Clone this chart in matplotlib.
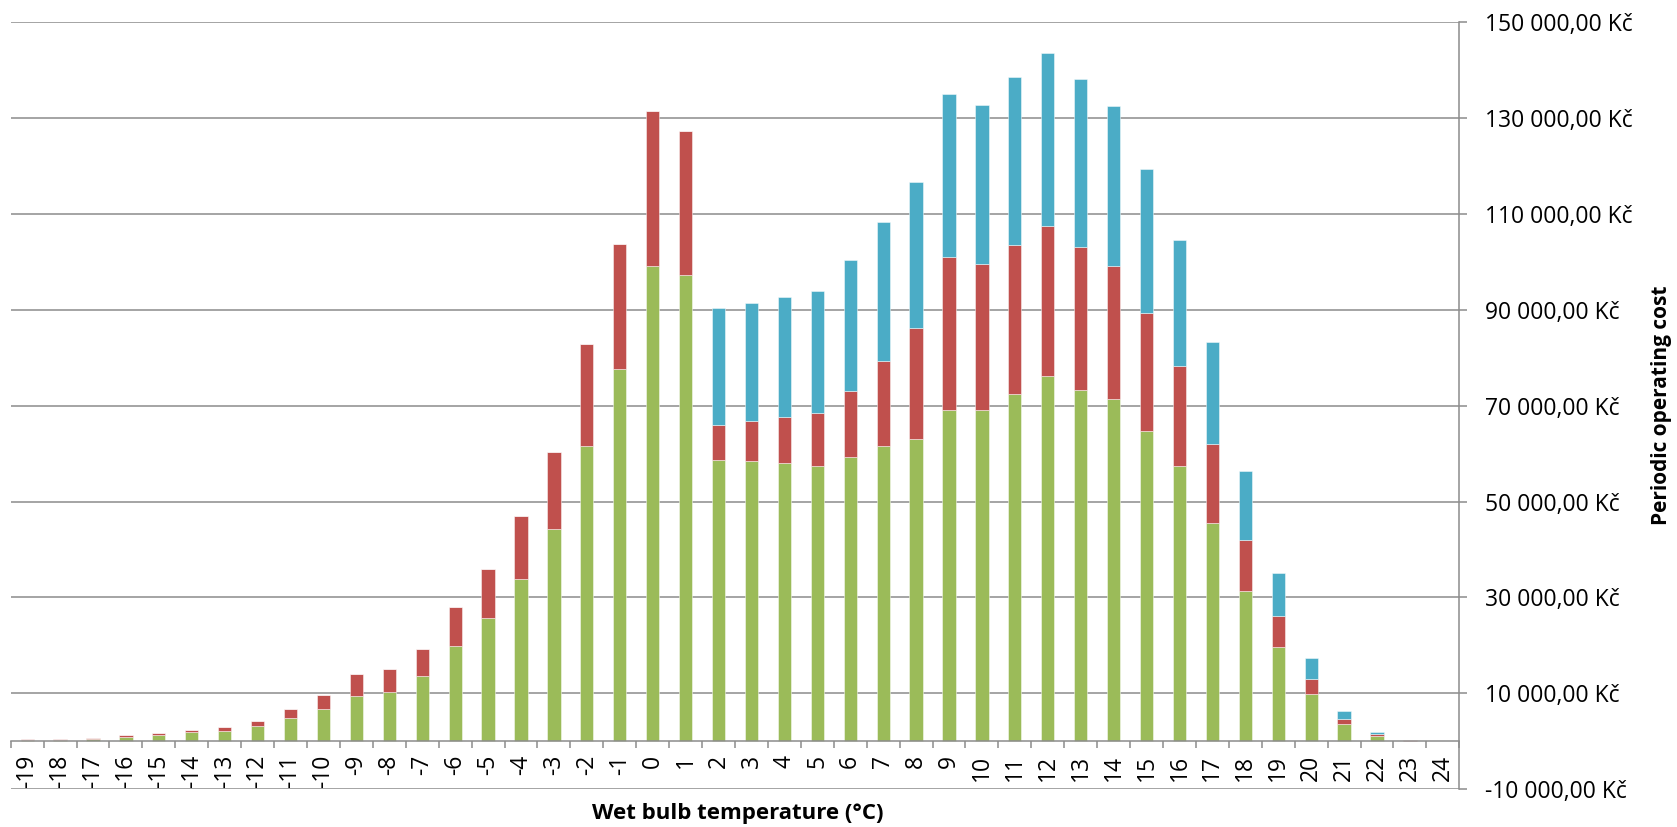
import matplotlib
matplotlib.use("Agg")
import matplotlib.pyplot as plt
from matplotlib.ticker import FixedLocator, FuncFormatter
import numpy as np

plt.rcParams["font.family"] = ["Open Sans", "DejaVu Sans"]

# Wet bulb temperature bins (°C)
temps = list(range(-19, 25))

# Periodic operating cost components per temperature bin (Kč)
green = [350, 370, 550, 900, 1250, 1880, 2220, 3120, 4790, 6660,
         9440, 10350, 13540, 19870, 25770, 33890, 44310, 61670, 77650, 99100,
         97220, 58680, 58480, 58130, 57440, 59310, 61600, 63060, 69100, 69100,
         72430, 76190, 73330, 71390, 64730, 57440, 45560, 31390, 19660, 9790,
         3680, 1180, 150, 0]
red = [60, 50, 80, 350, 420, 410, 700, 1040, 1870, 2990,
       4510, 4730, 5770, 8190, 10210, 13060, 15970, 21250, 26100, 32290,
       30150, 7290, 8260, 9510, 11040, 13820, 17780, 23190, 31940, 30420,
       31120, 31310, 29800, 27780, 24510, 20900, 16390, 10690, 6380, 3130,
       1040, 280, 30, 0]
blue = [0, 0, 0, 0, 0, 0, 0, 0, 0, 0,
        0, 0, 0, 0, 0, 0, 0, 0, 0, 0,
        0, 24310, 24720, 25070, 25350, 27150, 28950, 30350, 34040, 33260,
        35000, 35980, 35070, 33330, 30210, 26180, 21250, 14310, 9040, 4520,
        1670, 550, 40, 0]

y_ticks = list(range(-10000, 150001, 20000))

GRID = "#8c8c8c"
C_GREEN = "#9BBB59"
C_RED = "#C0504D"
C_BLUE = "#4BACC6"

W, H = 1677, 827
fig = plt.figure(figsize=(W / 100, H / 100), dpi=100)
ax = fig.add_axes([10.7 / W, 1 - 789.3 / H, (1459.3 - 10.7) / W, (789.3 - 22) / H])

x = np.arange(len(temps))
g = np.array(green, dtype=float)
r = np.array(red, dtype=float)
b = np.array(blue, dtype=float)
edge = (1, 1, 1, 0.55)
ax.bar(x, g, width=0.4, color=C_GREEN, edgecolor=edge, linewidth=0.6, zorder=3)
ax.bar(x, r, width=0.4, bottom=g, color=C_RED, edgecolor=edge, linewidth=0.6, zorder=3)
ax.bar(x, b, width=0.4, bottom=g + r, color=C_BLUE, edgecolor=edge, linewidth=0.6, zorder=3)

ax.set_xlim(-0.5, len(temps) - 0.5)
ax.set_ylim(-10000, 150000)

# value axis on the right
ax.yaxis.tick_right()
ax.yaxis.set_label_position("right")
ax.yaxis.set_major_locator(FixedLocator(y_ticks))


def kc(v, pos=None):
    s = f"{abs(v):,.2f}".replace(",", " ").replace(".", ",")
    return ("-" if v < 0 else "") + s + " Kč"


ax.yaxis.set_major_formatter(FuncFormatter(kc))
ax.tick_params(axis="y", which="major", direction="out", length=5.8, width=1.1,
               color=GRID, pad=13, labelsize=16.5, labelcolor="black")
ax.grid(axis="y", color=GRID, linewidth=1.1, zorder=1)

# category axis crossing at zero
for s in ("left", "top"):
    ax.spines[s].set_visible(False)
ax.spines["right"].set_color(GRID)
ax.spines["right"].set_linewidth(1.1)
ax.spines["bottom"].set_position(("data", 0))
ax.spines["bottom"].set_color(GRID)
ax.spines["bottom"].set_linewidth(1.1)
ax.spines["bottom"].set_zorder(4)

ax.xaxis.set_major_locator(FixedLocator(x))
ax.set_xticklabels([str(t) for t in temps], rotation=90)
ax.xaxis.set_minor_locator(FixedLocator(np.arange(len(temps) + 1) - 0.5))
ax.tick_params(axis="x", which="major", length=0, pad=9.5, labelsize=16.5)
ax.tick_params(axis="x", which="minor", direction="out", length=5, width=1.1, color=GRID)

fig.text(738 / W, 1 - 813 / H, "Wet bulb temperature (°C)", ha="center", va="center",
         fontsize=16, fontweight="bold")
fig.text(1661 / W, 1 - 405.5 / H, "Periodic operating cost", ha="center", va="center",
         rotation=90, fontsize=15, fontweight="bold")

fig.savefig("out.png", dpi=100)
